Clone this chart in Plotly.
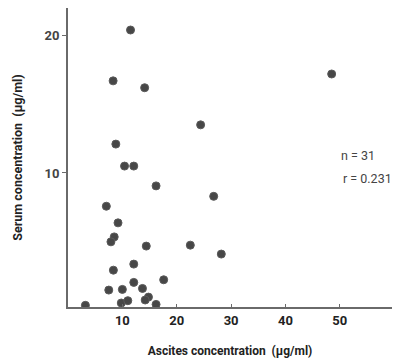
import plotly.graph_objects as go

ascites = [11.5, 8.3, 14.1, 8.8, 10.4, 12.1, 48.5, 24.4, 26.8, 22.5, 28.2,
           16.2, 7.05, 9.2, 8.5, 7.9, 14.4, 8.35, 12.1, 17.6, 7.5, 10.0,
           12.1, 13.7, 14.8, 14.2, 9.8, 11.0, 16.2, 3.2]
serum = [20.4, 16.7, 16.2, 12.1, 10.5, 10.5, 17.2, 13.5, 8.3, 4.75, 4.1,
         9.06, 7.58, 6.37, 5.35, 4.99, 4.68, 2.93, 3.37, 2.23, 1.48, 1.53,
         2.04, 1.6, 0.97, 0.76, 0.54, 0.71, 0.44, 0.37]
x_ticks = [10, 20, 30, 40, 50]
y_ticks = [10, 20]
stats_lines = ["n = 31", "r = 0.231"]

FONT = "Liberation Sans Narrow, Roboto, Liberation Sans, Arial, sans-serif"
AX = "#6a6a6a"

fig = go.Figure(go.Scatter(
    x=ascites, y=serum, mode="markers",
    marker=dict(size=8, color="#474747", line=dict(width=1, color="#5a5a5a")),
    showlegend=False,
))

fig.update_layout(
    width=393, height=362,
    margin=dict(l=68, r=1, t=8, b=55, autoexpand=False),
    paper_bgcolor="white", plot_bgcolor="white",
    font=dict(family=FONT, color="#222"),
    xaxis=dict(range=[0, 59.6], tickvals=x_ticks, ticktext=[str(v) for v in x_ticks],
               showgrid=False, zeroline=False, showline=True, linecolor=AX, linewidth=2,
               ticks="inside", ticklen=3, tickcolor=AX, tickwidth=1, automargin=False,
               tickfont=dict(size=13, family=FONT, color="#222", weight="bold"),
               title=dict(text="Ascites concentration  (\u03bcg/ml)", standoff=20,
                          font=dict(size=12, family=FONT, color="#222", weight="bold"))),
    yaxis=dict(range=[0.25, 22.0], tickvals=y_ticks, ticktext=[str(v) for v in y_ticks],
               showgrid=False, zeroline=False, showline=True, linecolor=AX, linewidth=2,
               ticks="outside", ticklen=4, tickcolor=AX, tickwidth=1, automargin=False,
               tickfont=dict(size=13, family=FONT, color="#444", weight="bold"),
               title=dict(text="Serum concentration  (\u03bcg/ml)", standoff=19,
                          font=dict(size=12.5, family=FONT, color="#222", weight="bold"))),
)

PLOT_L, PLOT_R, PLOT_T, PLOT_B = 68, 392, 8, 307
positions = [(339, 155), (341, 178)]
for text, (px, py) in zip(stats_lines, positions):
    fig.add_annotation(
        x=(px - PLOT_L) / (PLOT_R - PLOT_L), y=(PLOT_B - py) / (PLOT_B - PLOT_T),
        xref="paper", yref="paper", text=text, showarrow=False, xanchor="left",
        font=dict(size=12.5, family=FONT, color="#444"))

fig.write_html("out.html", config={"displayModeBar": False},
               post_script="document.body.style.margin='0';")
